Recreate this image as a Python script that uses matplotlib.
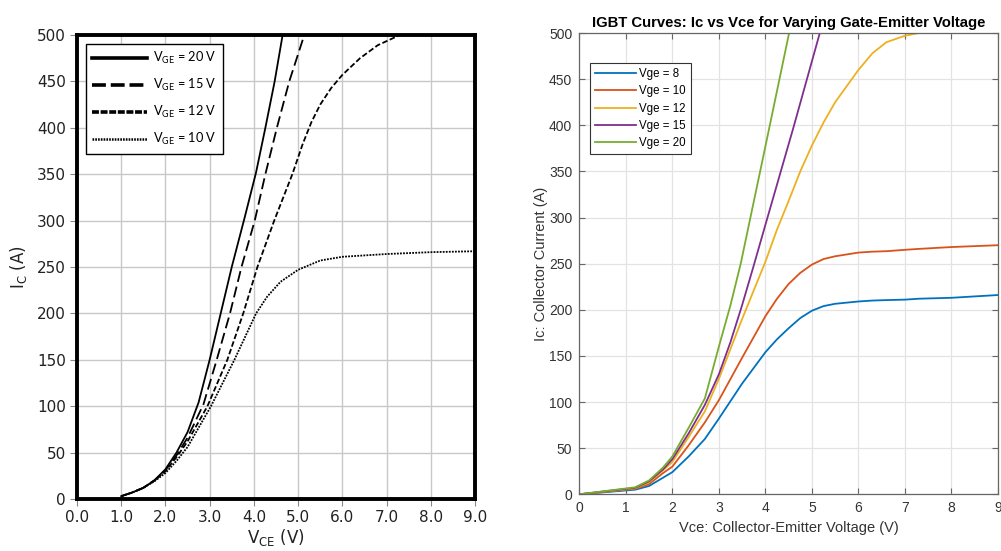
import matplotlib
matplotlib.use("Agg")
import matplotlib.pyplot as plt
from matplotlib.lines import Line2D
from matplotlib.ticker import MultipleLocator, FormatStrFormatter

plt.rcParams["lines.scale_dashes"] = False

# ---- datasheet curves (left) ----
vce_20 = [1.0, 1.25, 1.5, 1.75, 2.0, 2.25, 2.5, 2.75, 3.0, 3.24, 3.5, 3.79, 4.05, 4.26, 4.47, 4.65]
ic_20 = [3, 7, 12, 20, 32, 50, 72, 104, 150, 198, 250, 303, 352, 400, 450, 500]

vce_15 = [1.0, 1.25, 1.5, 1.75, 2.0, 2.25, 2.5, 2.86, 3.16, 3.46, 3.72, 4.02, 4.26, 4.52, 4.8, 5.14]
ic_15 = [3, 7, 12, 20, 31, 47, 66, 102, 150, 200, 250, 300, 350, 400, 450, 500]

vce_12 = [1.0, 1.25, 1.5, 1.75, 2.0, 2.25, 2.5, 2.95, 3.4, 3.76, 4.08, 4.46, 4.87,
          5.1, 5.3, 5.5, 5.75, 6.0, 6.4, 6.8, 7.3]
ic_12 = [3, 7, 12, 20, 30, 45, 62, 100, 150, 200, 250, 300, 350,
         382, 406, 425, 443, 457, 475, 489, 500]

vce_10 = [1.0, 1.25, 1.5, 1.75, 2.0, 2.25, 2.5, 3.03, 3.56, 4.05, 4.3, 4.6, 5.0, 5.5, 6.0, 7.0, 8.0, 9.0]
ic_10 = [3, 7, 12, 19, 28, 41, 56, 100, 150, 200, 218, 234, 247, 257, 261, 264, 266, 267]

# ---- simulated curves (right) ----
vce_sim = [0, 1.2, 1.5, 1.8, 2.0, 2.35, 2.7, 3.0, 3.5, 4.0, 4.25, 4.5, 4.75, 5.0, 5.25,
           5.5, 6.0, 6.3, 6.6, 7.0, 7.3, 8.0, 9.0]
ic_vge8 = [0, 5, 9, 18, 24, 41, 60, 82, 120, 154, 168, 180, 191, 199, 204,
           206.5, 209, 210, 210.5, 211, 212, 213, 216]
ic_vge10 = [0, 6, 11, 23, 30, 53, 78, 102, 148, 193, 212, 228, 240, 249, 255,
            258, 262, 263, 263.5, 265, 266, 268, 270]
ic_vge12 = [0, 6.5, 13, 26, 35, 62, 90, 125, 190, 252, 287, 318, 350, 378, 403,
            425, 460, 478, 490, 497, 500, 500, 500]

vce_vge15 = [0, 1.2, 1.5, 1.8, 2.0, 2.35, 2.7, 3.0, 3.25, 3.5, 3.75, 4.0, 4.6, 5.17]
ic_vge15 = [0, 7, 14, 27, 38, 66, 97, 130, 165, 205, 248, 292, 397, 500]

vce_vge20 = [0, 1.2, 1.5, 1.8, 2.0, 2.35, 2.7, 3.0, 3.25, 3.47, 4.0, 4.51]
ic_vge20 = [0, 7.6, 15, 29, 41, 72, 104, 160, 205, 250, 377, 500]

fig = plt.figure(figsize=(10.01, 5.51), dpi=100)

# left: datasheet style
ax1 = fig.add_axes([0.0769, 0.0944, 0.3976, 0.842])
lw = 1.3
ax1.plot(vce_20, ic_20, color="black", lw=lw)
ax1.plot(vce_15, ic_15, color="black", lw=lw, dashes=(8, 3.5))
ax1.plot(vce_12, ic_12, color="black", lw=lw, dashes=(4, 1.8))
ax1.plot(vce_10, ic_10, color="black", lw=lw, dashes=(1.3, 0.9))
ax1.set_xlim(0, 9)
ax1.set_ylim(0, 500)
ax1.xaxis.set_major_locator(MultipleLocator(1))
ax1.yaxis.set_major_locator(MultipleLocator(50))
ax1.xaxis.set_major_formatter(FormatStrFormatter("%.1f"))
ax1.grid(True, color="#c8c8c8", lw=1.0)
ax1.set_axisbelow(True)
for s in ax1.spines.values():
    s.set_linewidth(2.8)
    s.set_color("black")
ax1.tick_params(direction="out", length=5, width=0.8, color="#888888",
                labelsize=11, labelcolor="#222222", pad=3)
ax1.set_xlabel(r"V$_\mathregular{CE}$ (V)", fontsize=12, color="#222222", labelpad=1.5)
ax1.set_ylabel(r"I$_\mathregular{C}$ (A)", fontsize=12, color="#222222", labelpad=6)

leg_handles = [
    Line2D([], [], color="black", lw=2.6),
    Line2D([], [], color="black", lw=2.6, dashes=(10, 3.5)),
    Line2D([], [], color="black", lw=2.6, dashes=(5, 1.2)),
    Line2D([], [], color="black", lw=1.8, dashes=(1.2, 0.8)),
]
leg_labels = [r"V$_\mathregular{GE}$ = 20 V", r"V$_\mathregular{GE}$ = 15 V",
              r"V$_\mathregular{GE}$ = 12 V", r"V$_\mathregular{GE}$ = 10 V"]
leg1 = ax1.legend(leg_handles, leg_labels, loc="upper left", bbox_to_anchor=(0.022, 0.981),
                  fancybox=False, framealpha=1, edgecolor="black", handlelength=4.3,
                  prop={"family": "Lato", "size": 9.2}, borderpad=0.5, labelspacing=0.85,
                  handletextpad=0.45, borderaxespad=0)
leg1.get_frame().set_linewidth(1.0)

# right: simulation style
colors = ["#0072BD", "#D95319", "#EDB120", "#7E2F8E", "#77AC30"]
ax2 = fig.add_axes([0.5787, 0.1029, 0.4183, 0.8372])
ax2.plot(vce_sim, ic_vge8, color=colors[0], lw=1.3, label="Vge = 8")
ax2.plot(vce_sim, ic_vge10, color=colors[1], lw=1.3, label="Vge = 10")
ax2.plot(vce_sim, ic_vge12, color=colors[2], lw=1.3, label="Vge = 12")
ax2.plot(vce_vge15, ic_vge15, color=colors[3], lw=1.3, label="Vge = 15")
ax2.plot(vce_vge20, ic_vge20, color=colors[4], lw=1.3, label="Vge = 20")
ax2.set_xlim(0, 9)
ax2.set_ylim(0, 500)
ax2.xaxis.set_major_locator(MultipleLocator(1))
ax2.yaxis.set_major_locator(MultipleLocator(50))
ax2.grid(True, color="#e3e3e3", lw=0.9)
ax2.set_axisbelow(True)
for s in ax2.spines.values():
    s.set_linewidth(0.9)
    s.set_color("#666666")
ax2.tick_params(direction="in", length=4, width=0.8, color="#666666",
                top=True, right=True, labelsize=10, labelcolor="#333333", pad=5)
for t in ax2.get_xticklabels() + ax2.get_yticklabels():
    t.set_family("Liberation Sans")
ax2.set_xlabel("Vce: Collector-Emitter Voltage (V)", fontsize=10.5,
               family="Liberation Sans", color="#333333", labelpad=4)
ax2.set_ylabel("Ic: Collector Current (A)", fontsize=10.5,
               family="Liberation Sans", color="#333333", labelpad=1)
ax2.set_title("IGBT Curves: Ic vs Vce for Varying Gate-Emitter Voltage", fontsize=10.7,
              fontweight="bold", family="Liberation Sans", color="black", pad=4)
leg2 = ax2.legend(loc="upper left", bbox_to_anchor=(0.025, 0.935), fancybox=False,
                  framealpha=1, edgecolor="#333333", handlelength=3.6,
                  prop={"family": "Liberation Sans", "size": 8.3}, borderpad=0.45,
                  labelspacing=0.45, handletextpad=0.2, borderaxespad=0)
leg2.get_frame().set_linewidth(0.8)

fig.savefig("out.png", dpi=100)
